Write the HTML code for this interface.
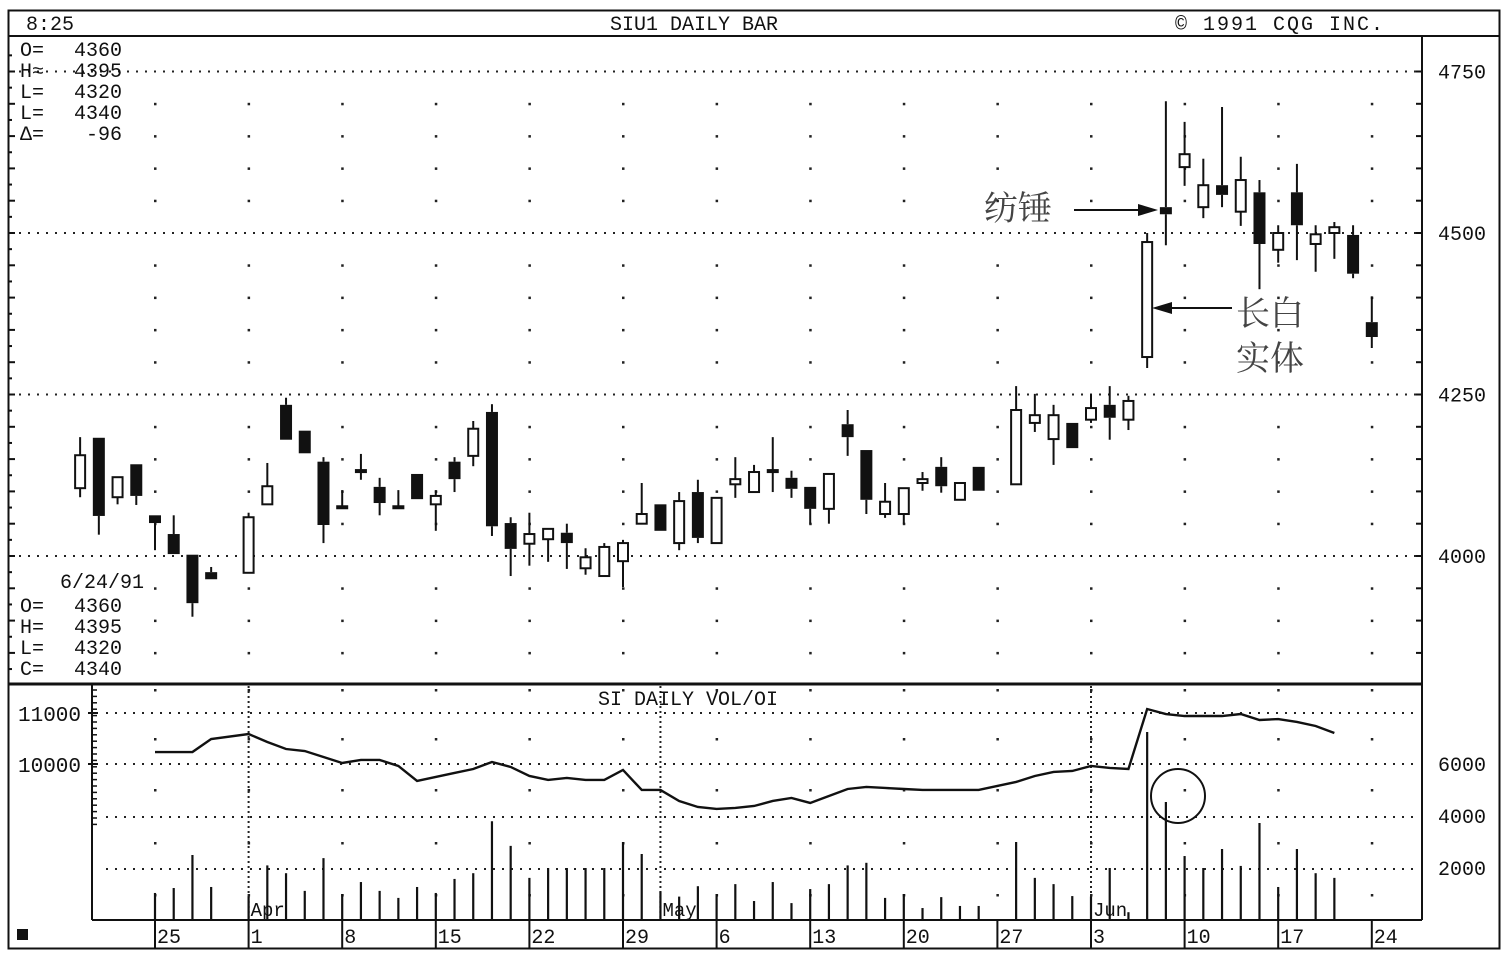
<!DOCTYPE html>
<html><head><meta charset="utf-8"><style>
html,body{margin:0;padding:0;background:#fff;}
svg{display:block;}
text{font-family:"Liberation Mono","DejaVu Sans Mono",monospace;fill:#111;}
.cn{font-family:"Liberation Sans","Noto Serif CJK SC","Noto Sans CJK SC",sans-serif;fill:#444;}
</style></head><body>
<svg id="chart" width="1510" height="960" viewBox="0 0 1510 960" xmlns="http://www.w3.org/2000/svg">
<rect x="8.5" y="10.5" width="1491" height="938" fill="#fff" stroke="#111" stroke-width="2"/>
<line x1="8" y1="36" x2="1500" y2="36" stroke="#111" stroke-width="2"/>
<text x="26" y="30" font-size="20">8:25</text>
<text x="610" y="30" font-size="20">SIU1 DAILY BAR</text>
<text x="1175" y="30" font-size="20" letter-spacing="2">©  1991 CQG INC.</text>
<line x1="1422" y1="36" x2="1422" y2="920" stroke="#111" stroke-width="2"/>
<line x1="8" y1="684" x2="1422" y2="684" stroke="#111" stroke-width="3"/>
<line x1="92" y1="684" x2="92" y2="920" stroke="#111" stroke-width="2"/>
<line x1="92" y1="920" x2="1422" y2="920" stroke="#111" stroke-width="2"/>
<rect x="17" y="929" width="11" height="11" fill="#111"/>
<g id="grid"></g>
<g id="ticks"></g>
<g id="vol"></g>
<g id="oi"></g>
<g id="candles"></g>
<g font-size="20">
<text x="20" y="56">O=</text><text x="74" y="56">4360</text>
<text x="20" y="77">H≈</text><text x="74" y="77">4395</text>
<text x="20" y="98">L=</text><text x="74" y="98">4320</text>
<text x="20" y="119">L=</text><text x="74" y="119">4340</text>
<text x="20" y="140">Δ=</text><text x="86" y="140">-96</text>
</g>
<g font-size="20">
<text x="60" y="588">6/24/91</text>
<text x="20" y="612">O=</text><text x="74" y="612">4360</text>
<text x="20" y="633">H=</text><text x="74" y="633">4395</text>
<text x="20" y="654">L=</text><text x="74" y="654">4320</text>
<text x="20" y="675">C=</text><text x="74" y="675">4340</text>
</g>
<text x="598" y="705" font-size="20">SI DAILY VOL/OI</text>
<g>
<text class="cn" x="984" y="220" font-size="34">纺锤</text>
<line x1="1074" y1="210" x2="1145" y2="210" stroke="#111" stroke-width="2"/>
<polygon points="1158,210 1138,204 1138,216" fill="#111"/>
</g>
<g>
<text class="cn" x="1236" y="325" font-size="34">长白</text>
<text class="cn" x="1236" y="370" font-size="34">实体</text>
<line x1="1232" y1="308" x2="1166" y2="308" stroke="#111" stroke-width="2"/>
<polygon points="1152,308 1172,302 1172,314" fill="#111"/>
</g>
<circle cx="1178" cy="796" r="27" fill="none" stroke="#111" stroke-width="2"/>
</svg>
<script>
const days  =[-4,-3,-2,-1,0,1,2,3,5,6,7,8,9,10,11,12,13,14,15,16,17,18,19,20,21,22,23,24,25,26,27,28,29,30,31,32,33,34,35,36,37,38,39,40,41,42,43,44,46,47,48,49,50,51,52,53,54,55,56,57,58,59,60,61,62,63,64,65];
const opens =[4105,4183,4091,4142,4063,4034,4002,3975,3974,4080,4234,4194,4146,4076,4132,4107,4076,4127,4080,4146,4155,4223,4051,4019,4026,4036,3981,3969,3992,4050,4080,4020,4099,4020,4111,4099,4132,4121,4107,4073,4204,4164,4065,4065,4113,4138,4087,4138,4111,4206,4181,4206,4211,4234,4211,4308,4540,4602,4540,4574,4533,4563,4474,4563,4483,4500,4497,4362];
const highs =[4184,4183,4122,4142,4063,4063,4002,3983,4067,4144,4245,4194,4153,4102,4158,4121,4102,4127,4102,4153,4209,4235,4060,4067,4042,4050,4012,4020,4025,4113,4080,4099,4118,4090,4153,4141,4184,4132,4107,4127,4226,4164,4113,4105,4130,4153,4113,4138,4263,4251,4234,4206,4251,4263,4248,4500,4704,4672,4615,4695,4618,4582,4512,4607,4512,4517,4512,4402];
const lows  =[4091,4033,4080,4079,4009,4003,3906,3964,3974,4080,4180,4159,4020,4073,4118,4063,4076,4088,4039,4099,4139,4031,3969,3985,3991,3980,3971,3969,3952,4050,4039,4009,4020,4020,4090,4099,4099,4090,4050,4050,4155,4065,4059,4050,4101,4098,4087,4101,4111,4192,4141,4167,4206,4180,4195,4291,4481,4573,4523,4540,4511,4413,4454,4458,4440,4460,4430,4322];
const closes=[4156,4062,4122,4093,4051,4003,3927,3964,4060,4108,4180,4159,4048,4077,4133,4082,4077,4088,4093,4119,4197,4046,4011,4034,4042,4020,3998,4014,4020,4065,4039,4085,4028,4090,4119,4130,4133,4104,4073,4127,4184,4087,4084,4105,4119,4108,4113,4101,4226,4218,4218,4167,4229,4214,4240,4486,4529,4622,4574,4559,4582,4483,4500,4512,4498,4509,4437,4339];
const volDays=[0,1,2,3,5,6,7,8,9,10,11,12,13,14,15,16,17,18,19,20,21,22,23,24,25,26,27,28,29,30,31,32,33,34,35,36,37,38,39,40,41,42,43,44,46,47,48,49,50,51,52,53,54,55,56,57,58,59,60,61,62,63];
const vols =[1040,1230,2500,1270,900,2100,1800,1120,2380,1000,1460,1120,850,1270,1040,1580,1800,3800,2850,1620,2000,2000,2000,2000,3000,2540,1100,900,1300,1000,1380,730,1460,650,1190,1380,2100,2200,850,1000,460,880,540,540,3000,1620,1380,920,900,2000,300,7230,4540,2460,2000,2730,2080,3730,1270,2730,1800,1620];
const oiDays=[0,1,2,3,5,6,7,8,9,10,11,12,13,14,15,16,17,18,19,20,21,22,23,24,25,26,27,28,29,30,31,32,33,34,35,36,37,38,39,40,41,42,43,44,46,47,48,49,50,51,52,53,54,55,56,57,58,59,60,61,62,63];
const ois =[10235,10235,10235,10490,10588,10431,10294,10255,10137,10020,10079,10079,9961,9667,9746,9824,9902,10040,9942,9765,9687,9726,9687,9687,9883,9491,9491,9275,9157,9118,9138,9177,9275,9334,9236,9373,9510,9550,9530,9510,9491,9491,9491,9491,9648,9765,9844,9863,9961,9922,9902,11078,10980,10941,10941,10941,10980,10863,10882,10824,10745,10608];
const priceTicks=[4750,4500,4250,4000];
const volTicks=[6000,4000,2000];
const oiTicks=[11000,10000];
const weekDays=[0,5,10,15,20,25,30,35,40,45,50,55,60,65];
const weekLabels=["25","1","8","15","22","29","6","13","20","27","3","10","17","24"];
const monthDays=[5,27,50];
const monthLabels=["Apr","May","Jun"];

const NS="http://www.w3.org/2000/svg";
const X=d=>155+d*18.72;
const Y=p=>556-(p-4000)*0.646;
const YV=v=>920-v*0.026;
const YO=v=>713-(v-11000)*0.051;
function mk(tag,attrs,parent){const e=document.createElementNS(NS,tag);for(const k in attrs)e.setAttribute(k,attrs[k]);parent.appendChild(e);return e;}
const grid=document.getElementById('grid'),ticks=document.getElementById('ticks');
for(let p=4800;p>=3800;p-=50){const y=Y(p);if(y<40||y>680)continue;
  const major=priceTicks.includes(p);
  if(major){const l=mk('line',{x1:10,y1:y,x2:1420,y2:y,stroke:'#222','stroke-width':2,'stroke-dasharray':'2 7'},grid);
    
    }
  else{weekDays.forEach(d=>{mk('rect',{x:X(d)-1,y:y-1,width:2.5,height:2.5,fill:'#222'},grid);});}
  mk('line',{x1:8,y1:y,x2:15,y2:y,stroke:'#111','stroke-width':2},ticks);
  mk('line',{x1:1416,y1:y,x2:1422,y2:y,stroke:'#111','stroke-width':2},ticks);
}
for(let p=4775;p>=3800;p-=50){const y=Y(p);if(y<40||y>680)continue;mk('line',{x1:8,y1:y,x2:12,y2:y,stroke:'#111','stroke-width':2},ticks);}
priceTicks.forEach(p=>{const t=mk('text',{x:1438,y:Y(p)+7,'font-size':20},ticks);t.textContent=p;
  
  });
[713,764,817,869].forEach(y=>{const l=mk('line',{x1:106,y1:y,x2:1420,y2:y,stroke:'#222','stroke-width':2,'stroke-dasharray':'2 7'},grid);
  
  });
[690,739,790,843,895].forEach(y=>{weekDays.forEach(d=>{mk('rect',{x:X(d)-1,y:y-1,width:2.5,height:2.5,fill:'#222'},grid);});});
for(let y=690;y<830;y+=6.4){mk('line',{x1:92,y1:y,x2:97,y2:y,stroke:'#111','stroke-width':1.5},ticks);}
monthDays.forEach((d,i)=>{const x=X(d);
  const l=mk('line',{x1:x,y1:686,x2:x,y2:920,stroke:'#222','stroke-width':2,'stroke-dasharray':'2 3'},grid);
  
  
  const t=mk('text',{x:x+2,y:916,'font-size':19},grid);t.textContent=monthLabels[i];
  
  });
oiTicks.forEach(v=>{const t=mk('text',{x:18,y:YO(v)+8,'font-size':21},ticks);t.textContent=v;
  
  
  mk('line',{x1:88,y1:YO(v),x2:98,y2:YO(v),stroke:'#111','stroke-width':2},ticks);});
volTicks.forEach(v=>{const t=mk('text',{x:1438,y:YV(v)+7,'font-size':20},ticks);t.textContent=v;
  
  });
weekDays.forEach((d,i)=>{const x=X(d);
  mk('line',{x1:x,y1:920,x2:x,y2:948,stroke:'#111','stroke-width':2},ticks);
  const t=mk('text',{x:x+2,y:943,'font-size':20},ticks);t.textContent=weekLabels[i];
  
  });
const vg=document.getElementById('vol');
volDays.forEach((d,i)=>{if(vols[i]===undefined)return;
  const b=mk('line',{x1:X(d),y1:YV(vols[i]),x2:X(d),y2:920,stroke:'#111','stroke-width':2.2},vg);
  
  });
const og=document.getElementById('oi');
const pl=mk('polyline',{points:oiDays.map((d,i)=>X(d)+','+YO(ois[i])).join(' '),fill:'none',stroke:'#111','stroke-width':2.4},og);


const cg=document.getElementById('candles');
days.forEach((d,i)=>{const x=X(d),o=opens[i],c=closes[i];
  const g=mk('g',{},cg);
  
  
  const top=Math.max(o,c),bot=Math.min(o,c);
  mk('line',{x1:x,y1:Y(highs[i]),x2:x,y2:Y(top),stroke:'#111','stroke-width':2},g);
  mk('line',{x1:x,y1:Y(bot),x2:x,y2:Y(lows[i]),stroke:'#111','stroke-width':2},g);
  const h=Math.max(Y(bot)-Y(top),2);
  if(c>=o) mk('rect',{x:x-5,y:Y(top),width:10,height:h,fill:'#fff',stroke:'#111','stroke-width':2},g);
  else mk('rect',{x:x-6,y:Y(top),width:12,height:h,fill:'#111'},g);
});
</script>
</body></html>
